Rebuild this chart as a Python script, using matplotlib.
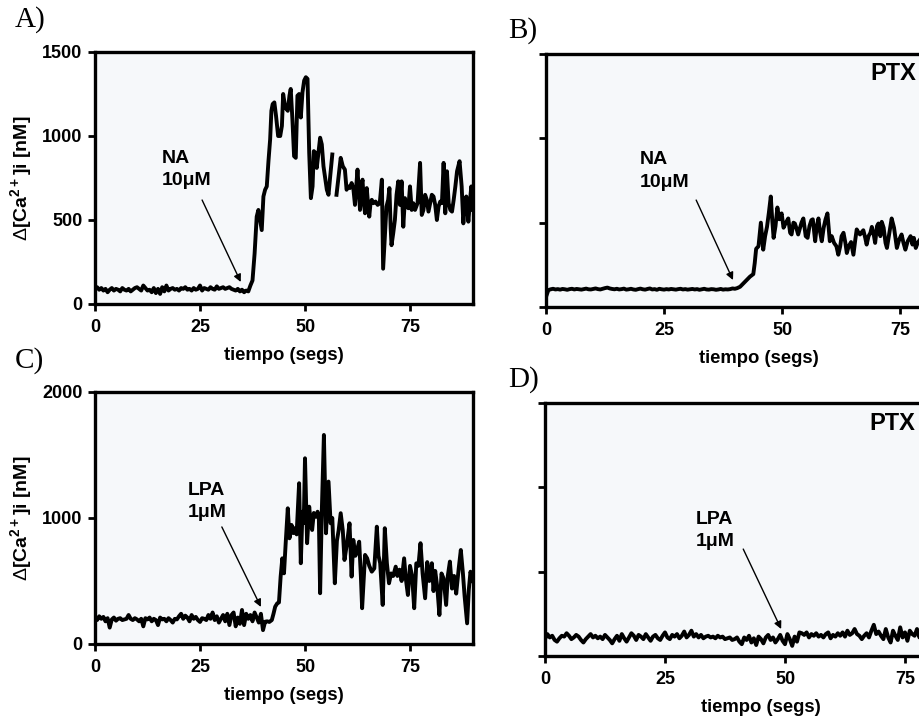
import matplotlib
matplotlib.use('Agg')
import matplotlib.pyplot as plt
import numpy as np

plt.rcParams['font.family'] = ['Liberation Sans', 'DejaVu Sans']
plt.rcParams['mathtext.fontset'] = 'custom'
plt.rcParams['mathtext.rm'] = 'Liberation Sans'
plt.rcParams['mathtext.bf'] = 'Liberation Sans:bold'

# ---------------- data ----------------
x_ticks = [0, 25, 50, 75]

# Panel A (NA 10 uM)
A_base_end = 36.5
A_base = [90, 100, 85, 95, 80, 90, 70, 85, 95, 80,
          90, 85, 75, 95, 85, 80, 90, 75, 85, 95,
          100, 90, 80, 110, 95, 80, 85, 70, 95, 65,
          90, 60, 100, 75, 110, 80, 90, 95, 85, 90,
          80, 95, 90, 100, 85, 90, 80, 95, 85, 90,
          110, 80, 95, 90, 85, 100, 90, 85, 105, 90,
          95, 100, 90, 95, 100, 90, 85, 80, 90, 75,
          85, 70, 80, 75]
A_resp = [(37.0, 110), (37.5, 140), (38.0, 300), (38.5, 520), (38.9, 560), (39.3, 500),
          (39.7, 440), (40.1, 640), (40.5, 680), (40.9, 700), (41.3, 850), (41.7, 980),
          (42.0, 1150), (42.3, 1190), (42.7, 1200), (43.1, 1120), (43.6, 1000), (44.1, 1000),
          (44.5, 1060), (44.8, 1250), (45.3, 1170), (45.9, 1150), (46.3, 1240), (46.6, 1280),
          (47.0, 1100), (47.4, 880), (47.8, 870), (48.2, 1240), (48.6, 1250), (49.0, 1110),
          (49.4, 1260), (49.8, 1330), (50.2, 1350), (50.6, 1340), (51.0, 900), (51.4, 630),
          (51.8, 700), (52.1, 910), (52.5, 900), (52.8, 810), (53.2, 900), (53.6, 990),
          (54.0, 950), (54.4, 820), (54.8, 750), (55.2, 680), (55.6, 650), (56.0, 760),
          (56.5, 890), (57.0, np.nan), (57.5, 650), (58.0, 760), (58.5, 870), (59.0, 820),
          (59.5, 800), (59.9, 680), (60.3, 700), (60.7, 690), (61.1, 720), (61.5, 690),
          (61.9, 590), (62.2, 700), (62.5, 800), (62.8, 680), (63.1, 560), (63.4, 700),
          (63.7, 740), (64.0, 600), (64.3, 540), (64.7, 690), (65.0, 600), (65.3, 520),
          (65.6, 600), (65.9, 620), (66.3, 600), (66.8, 610), (67.3, 590), (67.8, 600),
          (68.3, 740), (68.6, 210), (69.0, 400), (69.4, 580), (69.8, 620), (70.1, 690),
          (70.4, 450), (70.6, 350), (71.0, 420), (71.4, 500), (71.8, 650), (72.2, 730),
          (72.6, 590), (73.0, 730), (73.4, 460), (73.8, 630), (74.2, 580), (74.6, 570),
          (75.0, 700), (75.4, 560), (75.8, 600), (76.2, 560), (76.8, 600), (77.4, 840),
          (77.8, 530), (78.2, 560), (78.6, 650), (79.0, 620), (79.4, 550), (79.8, 600),
          (80.2, 650), (80.6, 640), (81.0, 590), (81.4, 500), (81.8, 580), (82.2, 610),
          (82.6, 600), (83.0, 840), (83.4, 540), (83.8, 790), (84.2, 600), (84.6, 560),
          (85.0, 550), (85.4, 620), (85.8, 700), (86.2, 790), (86.8, 850), (87.3, 700),
          (87.7, 480), (88.1, 600), (88.4, 640), (88.9, 490), (89.3, 620), (89.6, 700),
          (90.0, 560)]

# Panel B (NA 10 uM, PTX)
B_base_end = 40.5
B_base = [60, 100, 105, 108, 104, 106, 103, 107, 105, 102,
          106, 108, 104, 107, 105, 103, 106, 109, 105, 104,
          107, 110, 106, 104, 108, 112, 115, 110, 107, 105,
          108, 104, 106, 109, 103, 105, 108, 104, 102, 106,
          109, 105, 103, 107, 110, 104, 106, 102, 108, 105,
          103, 106, 104, 107, 105, 103, 106, 108, 104, 106,
          103, 105, 107, 104, 106, 102, 105, 108, 104, 103,
          106, 105, 102, 104, 107, 103, 105, 104, 106, 110,
          108, 112]
B_resp = [(41.1, 120), (41.8, 140), (42.5, 160), (43.2, 180), (43.9, 195), (44.2, 260),
          (44.5, 345), (45.0, 360), (45.5, 500), (46.0, 340), (46.4, 420), (46.8, 475),
          (47.2, 560), (47.6, 655), (47.9, 520), (48.2, 410), (48.6, 480), (49.0, 590),
          (49.4, 520), (49.9, 555), (50.3, 470), (50.8, 500), (51.3, 525), (51.7, 440),
          (52.0, 430), (52.4, 500), (52.7, 495), (53.0, 470), (53.4, 430), (53.8, 470),
          (54.1, 500), (54.5, 525), (55.0, 420), (55.4, 410), (55.8, 480), (56.2, 515),
          (56.5, 520), (57.0, 390), (57.3, 470), (57.7, 525), (58.0, 450), (58.4, 390),
          (58.8, 470), (59.2, 520), (59.6, 555), (60.1, 390), (60.5, 420), (61.0, 380),
          (61.5, 360), (61.9, 310), (62.3, 360), (62.6, 420), (63.0, 440), (63.4, 380),
          (63.7, 320), (64.1, 360), (64.6, 385), (65.1, 310), (65.5, 400), (65.8, 460),
          (66.2, 440), (66.5, 430), (66.9, 445), (67.2, 455), (67.6, 410), (67.9, 370),
          (68.3, 420), (68.7, 440), (69.0, 475), (69.4, 430), (69.7, 380), (70.1, 480),
          (70.4, 495), (70.8, 420), (71.1, 505), (71.5, 470), (71.9, 380), (72.2, 350),
          (72.6, 420), (73.2, 525), (73.7, 470), (74.3, 350), (74.8, 400), (75.3, 430),
          (75.7, 380), (76.1, 340), (76.6, 390), (77.2, 420), (77.6, 370), (77.9, 410),
          (78.3, 350), (78.7, 380), (79.2, 400), (79.6, 360)]

# Panel C (LPA 1 uM)
C_base_end = 40.0
C_base = [210, 190, 220, 200, 215, 180, 205, 130, 195, 210,
          185, 200, 205, 190, 195, 200, 230, 200, 190, 205,
          195, 180, 200, 140, 205, 195, 210, 180, 200, 190,
          150, 210, 195, 200, 180, 205, 190, 170, 200, 195,
          220, 240, 200, 225, 210, 180, 230, 200, 215, 190,
          175, 205, 200, 190, 230, 200, 250, 190, 220, 170,
          200, 230, 180, 240, 150, 230, 250, 140, 210, 160,
          270, 150, 240, 200, 230, 180, 250, 210, 170, 240,
          110]
C_resp = [(40.5, 177), (41.0, 180), (41.5, 175), (42.1, 190), (42.5, 240), (42.9, 296),
          (43.4, 323), (43.8, 330), (44.2, 535), (44.6, 680), (45.0, 561), (45.4, 800),
          (45.9, 1077), (46.3, 839), (46.8, 945), (47.2, 880), (47.6, 920), (48.0, 870),
          (48.6, 1276), (49.0, 641), (49.4, 1050), (49.7, 960), (50.0, 1474), (50.5, 800),
          (51.0, 1090), (51.3, 980), (51.7, 905), (52.1, 1040), (52.6, 1010), (53.0, 1050),
          (53.3, 990), (53.6, 403), (54.0, 1050), (54.5, 1659), (55.0, 879), (55.6, 1289),
          (56.1, 958), (56.5, 1000), (57.1, 482), (57.6, 820), (58.0, 900), (58.5, 1038),
          (59.0, 900), (59.4, 667), (60.0, 800), (60.6, 958), (61.1, 535), (61.5, 826),
          (62.0, 700), (62.5, 760), (62.9, 812), (63.3, 540), (63.6, 284), (64.3, 707),
          (64.8, 680), (65.3, 620), (65.9, 574), (66.5, 600), (67.1, 931), (67.5, 700),
          (67.9, 641), (68.5, 310), (69.0, 919), (69.5, 640), (70.0, 482), (70.5, 560),
          (71.0, 540), (71.6, 614), (72.0, 540), (72.5, 590), (73.0, 500), (73.6, 680),
          (74.0, 520), (74.5, 389), (75.0, 620), (75.5, 540), (76.0, 284), (76.5, 640),
          (77.0, 620), (77.5, 800), (78.0, 560), (78.6, 363), (79.1, 650), (79.6, 500),
          (80.2, 641), (80.6, 420), (81.0, 580), (81.5, 450), (82.0, 230), (82.5, 560),
          (83.0, 520), (83.6, 310), (84.0, 540), (84.5, 654), (85.0, 440), (85.5, 540),
          (86.0, 400), (86.6, 600), (87.1, 746), (87.6, 560), (88.0, 380), (88.6, 164),
          (89.0, 430), (89.4, 574), (90.0, 500)]

# Panel D (LPA 1 uM, PTX)
D_end = 80.0
D_vals = [100, 130, 110, 120, 95, 85, 105, 120, 115, 135, 120, 100, 110, 125, 115, 95, 80, 100, 115, 130, 110,
          120, 105, 115, 100, 125, 110, 95, 75, 100, 120, 90, 130, 105, 85, 110, 135, 120, 95, 125, 115,
          100, 130, 110, 90, 115, 125, 105, 95, 120, 140, 110, 100, 125, 115, 130, 105, 120, 145, 110, 125,
          150, 115, 130, 110, 125, 105, 115, 120, 110, 115, 105, 120, 110, 115, 100, 105, 110, 95, 100, 110,
          85, 70, 110, 95, 120, 80, 105, 65, 115, 100, 75, 110, 125, 95, 110, 80, 100, 125, 90, 70,
          130, 100, 60, 115, 85, 140, 135, 125, 140, 110, 130, 120, 135, 115, 125, 110, 130, 140, 105, 125,
          115, 135, 120, 140, 115, 150, 125, 135, 160, 130, 120, 100, 120, 135, 110, 150, 185, 130, 145, 120,
          100, 160, 110, 80, 150, 120, 95, 170, 110, 140, 90, 150, 130, 120, 160, 110, 145, 130, 150, 125]


def series(base, base_end, resp):
    t = list(np.linspace(0, base_end, len(base)))
    y = list(base)
    for tt, yy in resp:
        t.append(tt)
        y.append(yy)
    return np.array(t), np.array(y, dtype=float)


tA, yA = series(A_base, A_base_end, A_resp)
tB, yB = series(B_base, B_base_end, B_resp)
tC, yC = series(C_base, C_base_end, C_resp)
tD, yD = np.linspace(0, D_end, len(D_vals)), np.array(D_vals, dtype=float)

# ---------------- figure ----------------
W, H = 919, 721
fig = plt.figure(figsize=(W / 100, H / 100), dpi=100)


def box(l, t, r, b):
    return [l / W, 1 - b / H, (r - l) / W, (b - t) / H]


axA = fig.add_axes(box(95, 52, 473, 304))
axB = fig.add_axes(box(546, 54, 971, 307))
axC = fig.add_axes(box(95, 392, 473, 644))
axD = fig.add_axes(box(545, 403, 977, 656))

ylab = r'$\Delta$[Ca$^{\mathbf{2+}}$]i [nM]'


def style(ax, ymax, yticks, show_ylabels):
    ax.set_facecolor('#f6f8fa')
    for s in ax.spines.values():
        s.set_linewidth(2.4)
    ax.set_xlim(0, 90)
    ax.set_ylim(0, ymax)
    ax.set_xticks(x_ticks)
    ax.set_yticks(yticks)
    ax.tick_params(direction='out', length=5, width=2, labelsize=13, pad=4)
    ax.tick_params(axis='x', pad=6)
    for lab in ax.get_xticklabels() + ax.get_yticklabels():
        lab.set_fontweight('bold')
    if show_ylabels:
        ax.set_ylabel(ylab, fontsize=14, fontweight='bold', labelpad=5)
    else:
        ax.set_yticklabels([])
    ax.set_xlabel('tiempo (segs)', fontsize=13.3, fontweight='bold', labelpad=8)


lw = 2.8
axA.plot(tA, yA, color='black', lw=lw)
axB.plot(tB, yB, color='black', lw=lw)
axC.plot(tC, yC, color='black', lw=lw)
axD.plot(tD, yD, color='black', lw=lw)

style(axA, 1500, [0, 500, 1000, 1500], True)
style(axB, 1500, [0, 500, 1000, 1500], False)
style(axC, 2000, [0, 1000, 2000], True)
style(axD, 1500, [0, 500, 1000, 1500], False)

arrow = dict(arrowstyle='-|>', color='black', lw=1.0, mutation_scale=11, shrinkA=0, shrinkB=0)
tkw = dict(fontsize=14, fontweight='bold', ha='left', va='center', linespacing=1.4)

axA.text(16, 800, 'NA\n10\u03bcM', **tkw)
axA.annotate('', xy=(34.7, 131), xytext=(25.5, 619), arrowprops=arrow)

axB.text(19.9, 806, 'NA\n10\u03bcM', **tkw)
axB.annotate('', xy=(39.6, 160), xytext=(31.8, 634), arrowprops=arrow)
axB.text(68.6, 1387, 'PTX', fontsize=17, fontweight='bold', ha='left', va='center')

axC.text(22, 1131, 'LPA\n1\u03bcM', **tkw)
axC.annotate('', xy=(39.5, 294), xytext=(30.2, 929), arrowprops=arrow)

axD.text(31.5, 746, 'LPA\n1\u03bcM', **tkw)
axD.annotate('', xy=(49.2, 160), xytext=(41.3, 634), arrowprops=arrow)
axD.text(67.5, 1380, 'PTX', fontsize=17, fontweight='bold', ha='left', va='center')

serif = ['Liberation Serif', 'DejaVu Serif']
fig.text(15 / W, 1 - 20 / H, 'A)', family=serif, fontsize=21, ha='left', va='center')
fig.text(508 / W, 1 - 31 / H, 'B)', family=serif, fontsize=21, ha='left', va='center')
fig.text(15 / W, 1 - 361 / H, 'C)', family=serif, fontsize=21, ha='left', va='center')
fig.text(508 / W, 1 - 380 / H, 'D)', family=serif, fontsize=21, ha='left', va='center')

fig.savefig('out.png', dpi=100)
